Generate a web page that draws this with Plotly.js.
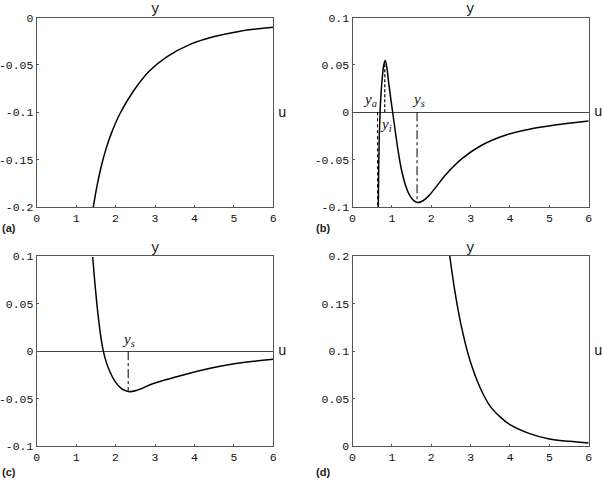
<!DOCTYPE html>
<html>
<head>
<meta charset="utf-8">
<script src="https://cdn.plot.ly/plotly-3.0.1.min.js"></script>
<style>html,body{margin:0;padding:0;background:#fff;}#chart{width:603px;height:480px;}</style>
</head>
<body>
<div id="chart"></div>
<script>
// Panel (a)
const aU = [1.435,1.53,1.65,1.77,1.90,2.11,2.45,2.87,3.30,3.89,4.48,5.16,6.0];
const aY = [-0.2,-0.1777,-0.1549,-0.1371,-0.1215,-0.1016,-0.0778,-0.056,-0.0415,-0.0284,-0.0204,-0.0144,-0.0102];
// Panel (b)
const bU = [0.655,0.665,0.68,0.70,0.725,0.76,0.795,0.83,0.87,0.914,0.96,1.02,1.09,1.17,1.25,1.35,1.45,1.55,1.66,1.78,1.93,2.12,2.35,2.78,3.28,3.88,4.47,5.14,6.0];
const bY = [-0.1,-0.06,-0.025,0.0,0.02,0.038,0.05,0.0547,0.048,0.033,0.018,0,-0.021,-0.0437,-0.062,-0.0775,-0.0875,-0.093,-0.0953,-0.0937,-0.0885,-0.079,-0.0668,-0.049,-0.0348,-0.0242,-0.0181,-0.0135,-0.0093];
const bMarkU = {ya: 0.635, yi: 0.82, ys: 1.64};
const bMarkY = {ya: -0.1, yi: 0.054, ys: -0.0953};
// Panel (c)
const cU = [1.42,1.47,1.52,1.57,1.63,1.69,1.76,1.84,1.99,2.15,2.32,2.55,2.96,3.55,4.40,5.24,6.0];
const cY = [0.099,0.074,0.052,0.033,0.014,0,-0.011,-0.020,-0.032,-0.0395,-0.0425,-0.041,-0.034,-0.027,-0.018,-0.012,-0.0085];
const cMarkU = 2.32, cMarkY = -0.0425;
// Panel (d)
const dU = [2.47,2.6,2.75,3.0,3.25,3.5,3.75,4.0,4.5,5.0,5.5,6.0];
const dY = [0.2,0.163,0.129,0.088,0.0608,0.042,0.0309,0.0227,0.0133,0.0077,0.0052,0.0035];

const xTicks = [0,1,2,3,4,5,6];
const yTicksA = [-0.2,-0.15,-0.1,-0.05,0], yTextA = ['-0.2','-0.15','-0.1','-0.05','0'];
const yTicksB = [-0.1,-0.05,0,0.05,0.1], yTextB = ['-0.1','-0.05','0','0.05','0.1'];
const yTicksD = [0,0.05,0.1,0.15,0.2], yTextD = ['0','0.05','0.1','0.15','0.2'];

const curve = {color:'#000', width:1.5, shape:'spline', smoothing:1};
const traces = [
  {x:aU, y:aY, xaxis:'x', yaxis:'y', mode:'lines', line:curve},
  {x:bU, y:bY, xaxis:'x2', yaxis:'y2', mode:'lines', line:curve},
  {x:[bMarkU.ya,bMarkU.ya], y:[0,bMarkY.ya], xaxis:'x2', yaxis:'y2', mode:'lines', line:{color:'#000',width:1,dash:'dot'}},
  {x:[bMarkU.yi,bMarkU.yi], y:[0,bMarkY.yi], xaxis:'x2', yaxis:'y2', mode:'lines', line:{color:'#000',width:1.2,dash:'3px,2px'}},
  {x:[bMarkU.ys,bMarkU.ys], y:[0,bMarkY.ys], xaxis:'x2', yaxis:'y2', mode:'lines', line:{color:'#000',width:1,dash:'dashdot'}},
  {x:cU, y:cY, xaxis:'x3', yaxis:'y3', mode:'lines', line:curve},
  {x:[cMarkU,cMarkU], y:[0,cMarkY], xaxis:'x3', yaxis:'y3', mode:'lines', line:{color:'#000',width:1,dash:'dashdot'}},
  {x:dU, y:dY, xaxis:'x4', yaxis:'y4', mode:'lines', line:curve}
];

const tickFont = {family:'Liberation Mono', size:11.5, color:'#111'};
function xa(dom, anchor){
  return {domain:dom, anchor:anchor, range:[0,6], tickvals:xTicks, ticktext:xTicks.map(String),
    ticks:'inside', ticklen:2, tickcolor:'#555', showgrid:false, zeroline:false,
    showline:true, mirror:true, linecolor:'#555', linewidth:1, tickfont:tickFont, fixedrange:true};
}
function ya(dom, anchor, rng, tv, tt, zl){
  return {domain:dom, anchor:anchor, range:rng, tickvals:tv, ticktext:tt,
    ticks:'inside', ticklen:2, tickcolor:'#555', showgrid:false, zeroline:zl, zerolinecolor:'#444', zerolinewidth:1,
    showline:true, mirror:true, linecolor:'#555', linewidth:1, tickfont:tickFont, fixedrange:true};
}
const xL = [36.7/603, 273.3/603], xR = [352.5/603, 588.7/603];
const yT = [1-207/480, 1-17.5/480], yB = [1-446.3/480, 1-256/480];

const labFont = {family:'Liberation Mono', size:14, color:'#111'};
const panFont = {family:'Liberation Sans, Arial, sans-serif', size:11, color:'#222'};
const subFont = {family:'Liberation Serif, serif', size:15, color:'#111'};
function ann(x,y,text,font){ return {xref:'paper', yref:'paper', x:x/603, y:1-y/480, text:text, showarrow:false, font:font, xanchor:'center', yanchor:'middle'}; }
const annotations = [
  ann(155,9,'y',labFont), ann(470,9,'y',labFont), ann(155,248,'y',labFont), ann(470,248,'y',labFont),
  ann(282,113,'u',labFont), ann(598,112,'u',labFont), ann(282,351,'u',labFont), ann(598,351,'u',labFont),
  ann(9,228,'<b>(a)</b>',panFont), ann(323,228,'<b>(b)</b>',panFont), ann(9,472,'<b>(c)</b>',panFont), ann(323,472,'<b>(d)</b>',panFont),
  ann(370,100,'<i>y</i><sub><i>a</i></sub>',subFont), ann(386,125,'<i>y</i><sub><i>i</i></sub>',subFont),
  ann(419,100,'<i>y</i><sub><i>s</i></sub>',subFont), ann(128,340,'<i>y</i><sub><i>s</i></sub>',subFont)
];

const layout = {
  width:603, height:480, margin:{l:0,r:0,t:0,b:0}, showlegend:false,
  paper_bgcolor:'#fff', plot_bgcolor:'#fff',
  xaxis: xa(xL,'y'), yaxis: ya(yT,'x',[-0.2,0],yTicksA,yTextA,false),
  xaxis2: xa(xR,'y2'), yaxis2: ya(yT,'x2',[-0.1,0.1],yTicksB,yTextB,true),
  xaxis3: xa(xL,'y3'), yaxis3: ya(yB,'x3',[-0.1,0.1],yTicksB,yTextB,true),
  xaxis4: xa(xR,'y4'), yaxis4: ya(yB,'x4',[0,0.2],yTicksD,yTextD,false),
  annotations: annotations
};
Plotly.newPlot('chart', traces, layout, {staticPlot:true, displayModeBar:false});
</script>
</body>
</html>
